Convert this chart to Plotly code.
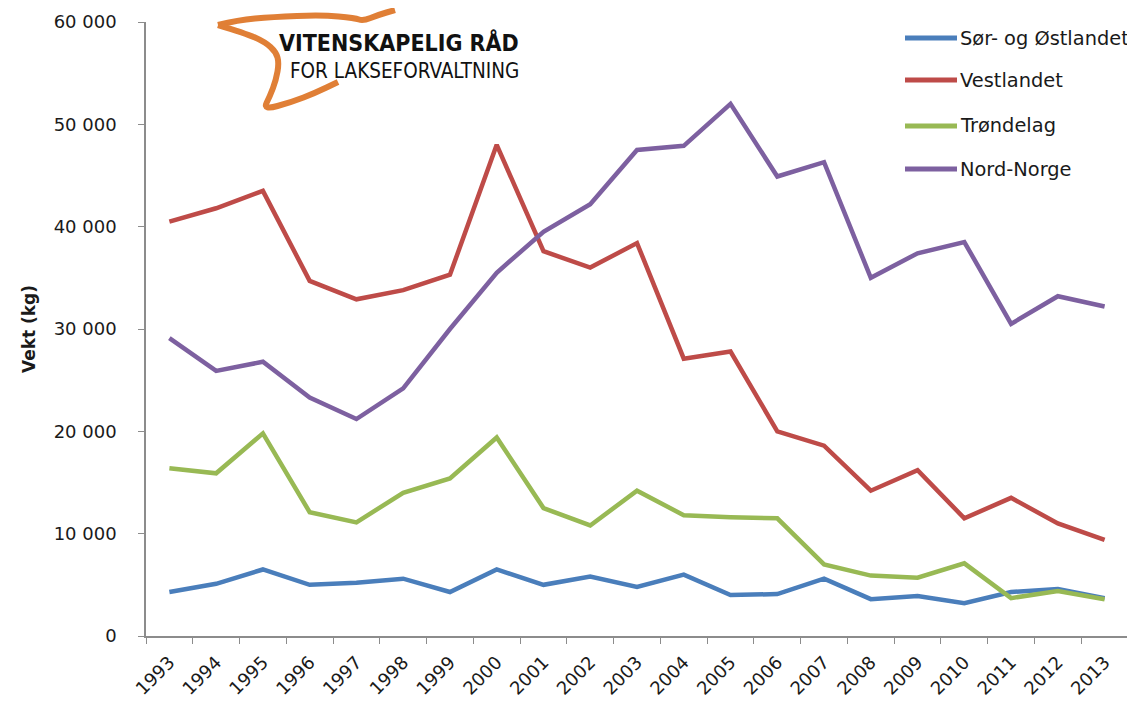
import plotly.graph_objects as go

years = [str(y) for y in range(1993, 2014)]
sor_ostlandet = [4300, 5100, 6500, 5000, 5200, 5600, 4300, 6500, 5000, 5800, 4800,
                 6000, 4000, 4100, 5600, 3600, 3900, 3200, 4300, 4600, 3700]
vestlandet = [40500, 41800, 43500, 34700, 32900, 33800, 35300, 48000, 37600, 36000, 38400,
              27100, 27800, 20000, 18600, 14200, 16200, 11500, 13500, 11000, 9400]
trondelag = [16400, 15900, 19800, 12100, 11100, 14000, 15400, 19400, 12500, 10800, 14200,
             11800, 11600, 11500, 7000, 5900, 5700, 7100, 3700, 4400, 3600]
nord_norge = [29100, 25900, 26800, 23300, 21200, 24200, 30000, 35500, 39500, 42200, 47500,
              47900, 52000, 44900, 46300, 35000, 37400, 38500, 30500, 33200, 32200]

series_names = ["Sør- og Østlandet", "Vestlandet", "Trøndelag", "Nord-Norge"]
series_values = [sor_ostlandet, vestlandet, trondelag, nord_norge]
colors = ["#4A7EBB", "#BE4B48", "#98B954", "#7D60A0"]
y_ticks = [0, 10000, 20000, 30000, 40000, 50000, 60000]

W, H = 1135, 704
OFF = 8  # page body margin
L, R, T, B = 146, 1128, 22, 636
FONT = "DejaVu Sans"


def px(x):
    return (x - L) / (R - L)


def py(y):
    return (B - y) / (B - T)


fig = go.Figure()
for name, vals, col in zip(series_names, series_values, colors):
    fig.add_trace(go.Scatter(x=years, y=vals, mode="lines", name=name,
                             line=dict(color=col, width=4.5), showlegend=False))

shapes = []
annotations = []

# custom legend
leg_y = [38, 80, 126, 169]
for name, col, yy in zip(series_names, colors, leg_y):
    shapes.append(dict(type="line", xref="paper", yref="paper",
                       x0=px(905), x1=px(957), y0=py(yy), y1=py(yy),
                       line=dict(color=col, width=5)))
    annotations.append(dict(xref="paper", yref="paper", x=px(958), y=py(yy),
                            xanchor="left", yanchor="middle", text=name, showarrow=False,
                            font=dict(family=FONT, size=19.4, color="#1a1a1a")))

# logo (decorative)
logo_top = [(218, 25), (238, 20), (272, 17), (322, 15), (355, 18), (363, 21),
            (378, 15), (395, 10)]
logo_low = [(218, 25), (245, 33), (265, 42), (276, 52), (279, 63), (276, 80),
            (270, 96), (263, 110), (292, 102), (315, 93), (338, 82)]


def to_path(pts):
    d = f"M {px(pts[0][0]):.5f},{py(pts[0][1]):.5f}"
    for i in range(1, len(pts) - 1):
        mx = (pts[i][0] + pts[i + 1][0]) / 2
        my = (pts[i][1] + pts[i + 1][1]) / 2
        d += f" Q {px(pts[i][0]):.5f},{py(pts[i][1]):.5f} {px(mx):.5f},{py(my):.5f}"
    d += f" L {px(pts[-1][0]):.5f},{py(pts[-1][1]):.5f}"
    return d


for pts in (logo_top, logo_low):
    shapes.append(dict(type="path", xref="paper", yref="paper", path=to_path(pts),
                       line=dict(color="#E07F36", width=6)))
annotations.append(dict(xref="paper", yref="paper", x=px(521), y=py(42), xanchor="right",
                        yanchor="middle", text="<b>VITENSKAPELIG RÅD</b>", showarrow=False,
                        font=dict(family="DejaVu Sans Condensed", size=23, color="#111111")))
annotations.append(dict(xref="paper", yref="paper", x=px(521), y=py(71), xanchor="right",
                        yanchor="middle", text="FOR LAKSEFORVALTNING", showarrow=False,
                        font=dict(family="DejaVu Sans Condensed", size=20.5, color="#111111")))

fig.update_layout(
    width=W - OFF, height=H - OFF,
    margin=dict(l=L - OFF, r=W - R, t=T - OFF, b=H - B),
    paper_bgcolor="white", plot_bgcolor="white",
    separators=", ",
    shapes=shapes, annotations=annotations,
    font=dict(family=FONT, color="#1a1a1a"),
)
fig.update_xaxes(type="category", tickson="boundaries", ticks="outside", ticklen=6,
                 tickcolor="#8c8c8c", showline=True, linecolor="#8c8c8c", linewidth=1.5,
                 showgrid=False, tickangle=-45, tickfont=dict(family=FONT, size=18),
                 ticklabelstandoff=7, range=[-0.5, 20.5], automargin=False)
fig.update_yaxes(range=[0, 60000], tickvals=y_ticks, tickformat=",d", ticks="outside",
                 ticklen=6, tickcolor="#8c8c8c", showline=True, linecolor="#8c8c8c",
                 linewidth=1.5, showgrid=False, zeroline=False, automargin=False,
                 tickfont=dict(family=FONT, size=18), ticklabelstandoff=18,
                 title=dict(text="<b>Vekt (kg)</b>", font=dict(family=FONT, size=17),
                            standoff=14))

fig.write_html("out.html")
